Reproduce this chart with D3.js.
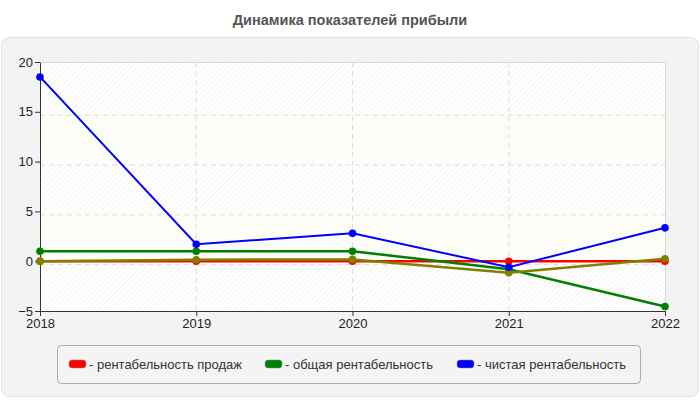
<!DOCTYPE html>
<html lang="ru">
<head>
<meta charset="UTF-8">
<title>Динамика показателей прибыли</title>
<script src="https://cdn.jsdelivr.net/npm/d3@7/dist/d3.min.js"></script>
<style>
  body { margin: 0; background: #fff; }
  text { font-family: "Liberation Sans", Arial, sans-serif; }
</style>
</head>
<body>
<div id="vis"></div>
<script>
var width = 700, height = 400;

// data
var years = ["2018", "2019", "2020", "2021", "2022"];
var salesProfit = [0, 0, 0, 0, 0];
var totalProfit = [1.0, 1.0, 1.0, -0.8, -4.55];
var netProfit = [18.5, 1.7, 2.8, -0.6, 3.35];
var extraSeries = [0, 0.15, 0.18, -1.15, 0.25];
var yTicks = [-5, 0, 5, 10, 15, 20];
var legendLabels = ["- рентабельность продаж", "- общая рентабельность", "- чистая рентабельность"];

var series = [
  { values: salesProfit, color: "#ff0000", w: 2.5 },
  { values: totalProfit, color: "#008000", w: 2.5 },
  { values: extraSeries, color: "#808000", w: 2.5 },
  { values: netProfit, color: "#0000ff", w: 2 }
];
var legendColors = ["#ff0000", "#008000", "#0000ff"];

var svg = d3.select("#vis").append("svg")
  .attr("width", width).attr("height", height);

// diagonal hatch for the bands
var defs = svg.append("defs");
var pat = defs.append("pattern").attr("id", "hatch")
  .attr("patternUnits", "userSpaceOnUse")
  .attr("width", 4).attr("height", 4)
  .attr("patternTransform", "rotate(45)");
pat.append("rect").attr("width", 4).attr("height", 4).attr("fill", "#ffffff");
pat.append("line").attr("x1", 0).attr("y1", 0).attr("x2", 0).attr("y2", 4)
  .attr("stroke", "#eeeeee").attr("stroke-width", 1.2);

// title
svg.append("text")
  .attr("x", 350).attr("y", 25)
  .attr("text-anchor", "middle")
  .attr("font-size", 14.5).attr("font-weight", "bold")
  .attr("fill", "#555")
  .text("Динамика показателей прибыли");

// panel
svg.append("rect")
  .attr("x", 1.5).attr("y", 37.5).attr("width", 697).attr("height", 359)
  .attr("rx", 8)
  .attr("fill", "#f3f3f3").attr("stroke", "#e2e2e2");

var x = d3.scalePoint().domain(years).range([40, 665]);
var y = d3.scaleLinear().domain([-5, 20]).range([311, 62]);

// background bands
var bands = d3.pairs(yTicks);
svg.append("g").selectAll("rect").data(bands).join("rect")
  .attr("x", 40).attr("width", 625)
  .attr("y", function(d) { return y(d[1]); })
  .attr("height", function(d) { return y(d[0]) - y(d[1]); })
  .attr("fill", function(d, i) { return i % 2 === 0 ? "url(#hatch)" : "#fdfdf7"; });

// grid
var grid = svg.append("g").attr("stroke", "#dcdcdc").attr("stroke-dasharray", "5,4");
grid.selectAll(".gy").data(yTicks.slice(1, -1)).join("line")
  .attr("x1", 40).attr("x2", 665)
  .attr("y1", function(d) { return y(d) + 3.5; })
  .attr("y2", function(d) { return y(d) + 3.5; });
grid.selectAll(".gx").data(years.slice(1, -1)).join("line")
  .attr("x1", function(d) { return x(d); }).attr("x2", function(d) { return x(d); })
  .attr("y1", 62).attr("y2", 311);

// plot frame (top and right)
svg.append("path")
  .attr("d", "M40,62.5H665.5V311")
  .attr("fill", "none").attr("stroke", "#d8d8d8");

// axes
var yAxis = svg.append("g").attr("transform", "translate(40,0)")
  .call(d3.axisLeft(y).tickValues(yTicks).tickSize(5).tickSizeOuter(0));
var xAxis = svg.append("g").attr("transform", "translate(0,311)")
  .call(d3.axisBottom(x).tickSize(5).tickSizeOuter(0));
[yAxis, xAxis].forEach(function(a) {
  a.select(".domain").attr("stroke", "#333");
  a.selectAll(".tick line").attr("stroke", "#333");
  a.selectAll("text").attr("fill", "#222").attr("font-size", 13)
    .attr("font-family", "Liberation Sans, Arial, sans-serif");
});
yAxis.selectAll("text").attr("x", -7);
xAxis.selectAll("text").attr("y", 8);

// lines
var line = d3.line()
  .x(function(d, i) { return x(years[i]); })
  .y(function(d) { return y(d); });

series.forEach(function(s) {
  svg.append("path").datum(s.values)
    .attr("d", line)
    .attr("fill", "none")
    .attr("stroke", s.color).attr("stroke-width", s.w);
  svg.append("g").selectAll("circle").data(s.values).join("circle")
    .attr("cx", function(d, i) { return x(years[i]); })
    .attr("cy", function(d) { return y(d); })
    .attr("r", 3.8)
    .attr("fill", s.color);
});

// legend
svg.append("rect")
  .attr("x", 57.5).attr("y", 345.5).attr("width", 583).attr("height", 38)
  .attr("rx", 4)
  .attr("fill", "#f4f4f4").attr("stroke", "#aaa");

var legendX = [69, 265, 457];
var lg = svg.append("g").selectAll("g").data(legendLabels).join("g")
  .attr("transform", function(d, i) { return "translate(" + legendX[i] + ",360)"; });
lg.append("rect")
  .attr("x", 0).attr("y", 0).attr("width", 17).attr("height", 8).attr("rx", 3)
  .attr("fill", function(d, i) { return legendColors[i]; })
  .attr("stroke", "#888").attr("stroke-width", 0.5);
lg.append("text")
  .attr("x", 20).attr("y", 9)
  .attr("font-size", 13).attr("fill", "#333")
  .text(function(d) { return d; });
</script>
</body>
</html>
